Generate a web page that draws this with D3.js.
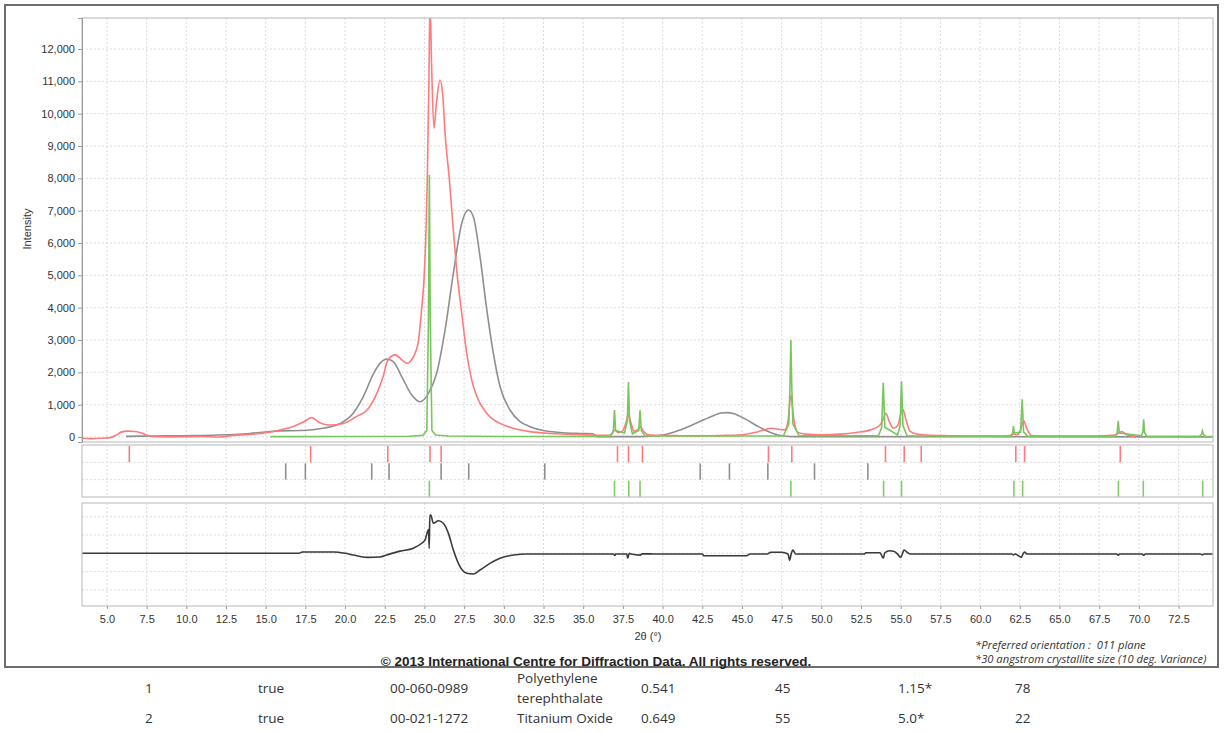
<!DOCTYPE html>
<html>
<head>
<meta charset="utf-8">
<script src="https://cdn.jsdelivr.net/npm/d3@7"></script>
<style>
  body { margin: 0; background: #fff; }
  svg { display: block; }
</style>
</head>
<body>
<svg id="chart" width="1225" height="733"></svg>
<script>
// ---- Data: 2θ (degrees) / intensity pairs ----
// Observed pattern
const observed = [
  [3.43,-40],[4.0,-50],[4.6,-40],[5.2,-20],[5.6,60],[5.9,150],[6.3,180],[6.8,170],[7.2,120],[7.6,40],
  [8.2,10],[9.0,5],[10.0,10],[11.0,15],[12.0,0],[13.0,50],[14.0,80],[15.0,130],[15.9,217],[16.7,320],
  [17.4,470],[17.9,600],[18.4,440],[19.0,370],[19.9,420],[20.7,630],[21.4,840],[22.0,1350],[22.4,1870],
  [22.7,2380],[23.15,2540],[23.6,2380],[23.9,2280],[24.3,2480],[24.6,2900],[24.8,3830],[24.97,4860],
  [25.1,6400],[25.18,7950],[25.28,11000],[25.35,13500],[25.45,11500],[25.6,9550],[25.75,10300],
  [25.98,11040],[26.15,10600],[26.3,9390],[26.57,7950],[26.82,6400],[27.03,5170],[27.35,3830],
  [27.66,2590],[27.98,1760],[28.3,1250],[28.93,730],[29.76,420],[30.6,270],[31.65,165],[33.0,110],
  [34.5,80],[35.5,60],[36.5,50],[36.8,90],[37.0,220],[37.2,130],[37.5,200],[37.7,450],[37.85,700],
  [38.0,450],[38.2,180],[38.45,230],[38.6,320],[38.8,180],[39.1,70],[40.0,50],[41.0,40],[42.0,35],
  [43.0,40],[44.0,50],[45.0,70],[45.8,140],[46.4,220],[46.8,270],[47.3,240],[47.7,220],[47.9,500],
  [48.08,1300],[48.25,600],[48.5,150],[49.0,90],[50.0,70],[51.2,90],[52.2,140],[53.1,220],[53.7,370],
  [53.9,550],[54.06,730],[54.3,450],[54.55,270],[54.8,350],[55.13,860],[55.35,500],[55.6,170],
  [56.0,90],[56.65,60],[58.0,40],[60.0,30],[61.5,30],[62.0,60],[62.1,100],[62.3,60],[62.5,150],
  [62.74,500],[62.95,250],[63.26,40],[65.0,30],[67.0,30],[68.5,60],[68.93,165],[69.2,80],[69.8,20]
];
// Calculated: Polyethylene terephthalate
const petCalc = [
  [6.2,20],[8.0,30],[10.0,40],[12.0,60],[14.0,110],[15.9,190],[17.2,200],[18.6,270],[19.7,420],
  [20.5,730],[21.15,1250],[21.8,1970],[22.3,2330],[22.62,2410],[23.04,2330],[23.57,1870],[24.2,1300],
  [24.72,1090],[25.25,1350],[25.77,1970],[26.3,3310],[26.82,5060],[27.35,6610],[27.77,7020],
  [28.08,6810],[28.5,5580],[28.93,3930],[29.34,2590],[29.76,1560],[30.39,835],[31.02,474],[31.65,320],
  [32.5,200],[33.5,140],[34.8,110],[35.6,100],[35.9,10],[38.0,10],[39.0,20],[40.0,60],[41.0,200],
  [42.0,400],[43.0,620],[43.7,740],[44.05,755],[44.5,720],[45.2,560],[46.0,330],[46.8,140],
  [47.5,40],[48.5,10],[74.67,5]
];
// Calculated: Titanium Oxide
const tio2Calc = [
  [15.3,10],[20.0,15],[24.0,25],[24.9,50],[25.15,200],[25.25,3500],[25.31,8100],[25.37,3500],
  [25.47,200],[25.7,60],[26.5,30],[30.0,15],[36.7,20],[36.9,200],[36.97,835],[37.04,200],[37.6,120],
  [37.78,500],[37.85,1700],[37.92,500],[38.1,100],[38.5,200],[38.58,835],[38.66,200],[38.9,30],
  [47.6,30],[47.95,400],[48.02,1500],[48.08,3000],[48.14,1500],[48.21,400],[48.6,40],[53.6,40],
  [53.8,300],[53.9,1680],[54.0,300],[54.8,60],[54.96,350],[55.05,1720],[55.14,350],[55.4,40],
  [61.9,20],[62.05,120],[62.1,340],[62.15,120],[62.55,150],[62.65,1170],[62.74,150],[63.0,20],
  [68.5,20],[68.63,120],[68.7,500],[68.77,120],[70.15,40],[70.25,140],[70.3,550],[70.36,140],
  [70.5,20],[73.8,20],[73.95,80],[74.0,190],[74.07,80],[74.2,20],[74.67,10]
];
// Difference (observed - calculated)
const difference = [
  [3.43,0],[17.1,0],[17.3,70],[19.3,70],[20.0,0],[20.5,-90],[21.4,-220],[22.2,-200],[22.62,-90],
  [23.46,120],[24.3,280],[24.83,550],[25.04,730],[25.19,1180],[25.26,1300],[25.3,270],[25.34,2090],
  [25.4,2090],[25.56,1640],[25.87,1780],[26.19,1640],[26.51,1090],[26.82,180],[27.24,-730],
  [27.66,-1090],[28.08,-1130],[28.5,-910],[29.13,-550],[29.76,-270],[30.6,-90],[31.5,-40],[36.9,-40],
  [37.0,-120],[37.05,-40],[37.75,-40],[37.8,-270],[37.9,0],[38.0,-40],[38.6,-100],[38.7,-20],
  [39.7,-40],[42.5,-40],[42.6,-130],[45.3,-130],[45.5,-40],[46.6,-40],[46.8,55],[47.5,55],[47.9,-40],
  [48.0,-370],[48.1,-40],[48.2,180],[48.4,-40],[52.7,-40],[52.8,30],[53.7,30],[53.9,-270],[54.0,30],
  [54.3,140],[54.6,100],[54.8,-40],[55.0,-220],[55.1,-40],[55.2,180],[55.4,60],[55.6,-40],[62.0,-40],
  [62.1,-90],[62.2,-40],[62.6,-220],[62.7,-40],[62.8,70],[62.95,-40],[68.6,-40],[68.7,-100],
  [68.8,-40],[70.2,-40],[70.3,-110],[70.4,-40],[73.9,-40],[74.0,-90],[74.1,-40],[74.67,-40]
];

// Peak positions (2θ) for the three marker rows
const observedPeaks = [6.41,17.83,22.69,25.35,26.05,37.16,37.85,38.73,46.67,48.14,54.04,55.22,56.29,62.25,62.80,68.83];
const petPeaks = [16.26,17.50,21.68,22.77,26.05,27.79,32.58,42.37,44.21,46.63,49.57,52.93];
const tio2Peaks = [25.31,36.97,37.87,38.58,48.08,53.92,55.05,62.13,62.68,68.71,70.28,74.02];

// Axis ticks
const xTicks = [5.0,7.5,10.0,12.5,15.0,17.5,20.0,22.5,25.0,27.5,30.0,32.5,35.0,37.5,40.0,42.5,45.0,47.5,50.0,52.5,55.0,57.5,60.0,62.5,65.0,67.5,70.0,72.5];
const yTicks = [0,1000,2000,3000,4000,5000,6000,7000,8000,9000,10000,11000,12000];
const diffGrid = [-2000,-1000,0,1000,2000];

// Phase table
const phaseNo = ["1","2"];
const phaseFlag = ["true","true"];
const pdfNumber = ["00-060-0989","00-021-1272"];
const phaseName = [["Polyethylene","terephthalate"],["Titanium Oxide"]];
const colA = ["0.541","0.649"];
const colB = ["45","55"];
const colC = ["1.15*","5.0*"];
const colD = ["78","22"];

const notes = ["*Preferred orientation :  011 plane", "*30 angstrom crystallite size (10 deg. Variance)"];
const copyright = "\u00A9 2013 International Centre for Diffraction Data. All rights reserved.";

// ---- Layout ----
const svg = d3.select("#chart");
const L = 82, R = 1213;
const main = {top: 18, bottom: 442};
const marks = {top: 445, bottom: 497};
const diffP = {top: 503, bottom: 606};

const x = d3.scaleLinear().domain([3.43, 74.67]).range([L, R]);
const y = d3.scaleLinear().domain([-155, 12960]).range([main.bottom, main.top]);
const yd = d3.scaleLinear().domain([-2880, 2750]).range([diffP.bottom, diffP.top]);

const axisFont = "'Liberation Sans', Arial, sans-serif";
const gridColor = "#dcdcdc";

// Outer frame
svg.append("rect").attr("x", 5).attr("y", 5).attr("width", 1213).attr("height", 662)
  .attr("fill", "none").attr("stroke", "#6e6e6e").attr("stroke-width", 2);

// Panel grids
function vGrid(top, bottom) {
  svg.append("g").selectAll("line").data(xTicks).join("line")
    .attr("x1", d => x(d)).attr("x2", d => x(d))
    .attr("y1", top).attr("y2", bottom)
    .attr("stroke", gridColor).attr("stroke-dasharray", "2,2");
}
vGrid(main.top, main.bottom);
vGrid(marks.top, marks.bottom);
vGrid(diffP.top, diffP.bottom);

svg.append("g").selectAll("line").data(yTicks).join("line")
  .attr("x1", L).attr("x2", R).attr("y1", d => y(d)).attr("y2", d => y(d))
  .attr("stroke", gridColor).attr("stroke-dasharray", "2,2");

svg.append("g").selectAll("line").data(diffGrid).join("line")
  .attr("x1", L).attr("x2", R).attr("y1", d => yd(d)).attr("y2", d => yd(d))
  .attr("stroke", gridColor).attr("stroke-dasharray", "2,2");

const rowH = (marks.bottom - marks.top) / 3;
svg.append("g").selectAll("line").data([1, 2]).join("line")
  .attr("x1", L).attr("x2", R)
  .attr("y1", d => marks.top + d * rowH).attr("y2", d => marks.top + d * rowH)
  .attr("stroke", gridColor).attr("stroke-dasharray", "2,2");

// Clip for the main panel
svg.append("clipPath").attr("id", "clipMain").append("rect")
  .attr("x", L).attr("y", main.top).attr("width", R - L).attr("height", main.bottom - main.top);

const smooth = d3.line().curve(d3.curveMonotoneX).x(d => x(d[0])).y(d => y(d[1]));
const sharp = d3.line().x(d => x(d[0])).y(d => y(d[1]));
const gMain = svg.append("g").attr("clip-path", "url(#clipMain)");
gMain.append("path").datum(petCalc).attr("d", smooth)
  .attr("fill", "none").attr("stroke", "#8f8f8f").attr("stroke-width", 1.6);
gMain.append("path").datum(observed).attr("d", smooth)
  .attr("fill", "none").attr("stroke", "#ff7b7b").attr("stroke-width", 1.6);
gMain.append("path").datum(tio2Calc).attr("d", sharp)
  .attr("fill", "none").attr("stroke", "#79c55e").attr("stroke-width", 1.6);

// Peak marker rows
const rows = [
  {peaks: observedPeaks, color: "#ff7b7b"},
  {peaks: petPeaks, color: "#8f8f8f"},
  {peaks: tio2Peaks, color: "#82ca68"}
];
rows.forEach((r, i) => {
  svg.append("g").selectAll("line").data(r.peaks).join("line")
    .attr("x1", d => x(d)).attr("x2", d => x(d))
    .attr("y1", marks.top + i * rowH + 1).attr("y2", marks.top + (i + 1) * rowH)
    .attr("stroke", r.color).attr("stroke-width", 1.6);
});

// Difference curve
svg.append("path").datum(difference)
  .attr("d", d3.line().curve(d3.curveMonotoneX).x(d => x(d[0])).y(d => yd(d[1])))
  .attr("fill", "none").attr("stroke", "#3a3a3a").attr("stroke-width", 1.6);

// Panel borders
[main, marks, diffP].forEach(p => {
  svg.append("rect").attr("x", L).attr("y", p.top).attr("width", R - L).attr("height", p.bottom - p.top)
    .attr("fill", "none").attr("stroke", "#c4c4c4").attr("stroke-width", 1.2);
});

// Y axis
const yAxis = d3.axisLeft(y).tickValues(yTicks).tickSize(4).tickPadding(3)
  .tickFormat(d3.format(","));
const gy = svg.append("g").attr("transform", `translate(${L},0)`).call(yAxis);
gy.select(".domain").attr("stroke", "#9a9a9a");
gy.selectAll(".tick line").attr("stroke", "#9a9a9a");
gy.selectAll("text").attr("font-family", axisFont).attr("font-size", 11).attr("fill", "#333");

// X axis under the difference panel
const xAxis = d3.axisBottom(x).tickValues(xTicks).tickSize(3).tickPadding(6)
  .tickFormat(d3.format(".1f"));
const gx = svg.append("g").attr("transform", `translate(0,${diffP.bottom})`).call(xAxis);
gx.select(".domain").remove();
gx.selectAll(".tick line").attr("stroke", "#9a9a9a");
gx.selectAll("text").attr("font-family", axisFont).attr("font-size", 11).attr("fill", "#333");

// Axis titles
svg.append("text").attr("transform", "translate(31,229) rotate(-90)")
  .attr("text-anchor", "middle").attr("font-family", axisFont).attr("font-size", 11)
  .attr("fill", "#333").text("Intensity");
svg.append("text").attr("x", 648).attr("y", 640).attr("text-anchor", "middle")
  .attr("font-family", axisFont).attr("font-size", 11).attr("fill", "#333").text("2\u03B8 (\u00B0)");

// Notes and copyright
svg.append("g").selectAll("text").data(notes).join("text")
  .attr("x", 975).attr("y", (d, i) => 649 + i * 14)
  .style("white-space", "pre")
  .attr("font-family", "'Open Sans', sans-serif").attr("font-style", "italic")
  .attr("font-size", 11.2).attr("fill", "#333").text(d => d);
svg.append("text").attr("x", 596).attr("y", 666).attr("text-anchor", "middle")
  .attr("font-family", axisFont).attr("font-weight", "bold").attr("font-size", 13.5)
  .attr("fill", "#222").text(copyright);

// Phase table
const tableFont = "'Open Sans', sans-serif";
const rowY = [693, 723];
const cols = [
  {x: 145, vals: phaseNo},
  {x: 258, vals: phaseFlag},
  {x: 390, vals: pdfNumber},
  {x: 641, vals: colA},
  {x: 775, vals: colB},
  {x: 898, vals: colC},
  {x: 1015, vals: colD}
];
const gt = svg.append("g").attr("font-family", tableFont).attr("font-size", 13.5).attr("fill", "#333");
cols.forEach(c => {
  c.vals.forEach((v, i) => {
    gt.append("text").attr("x", c.x).attr("y", rowY[i]).text(v);
  });
});
phaseName.forEach((lines, i) => {
  lines.forEach((t, j) => {
    const yy = lines.length === 1 ? rowY[i] : rowY[i] - 10 + j * 20;
    gt.append("text").attr("x", 517).attr("y", yy).text(t);
  });
});
</script>
</body>
</html>
